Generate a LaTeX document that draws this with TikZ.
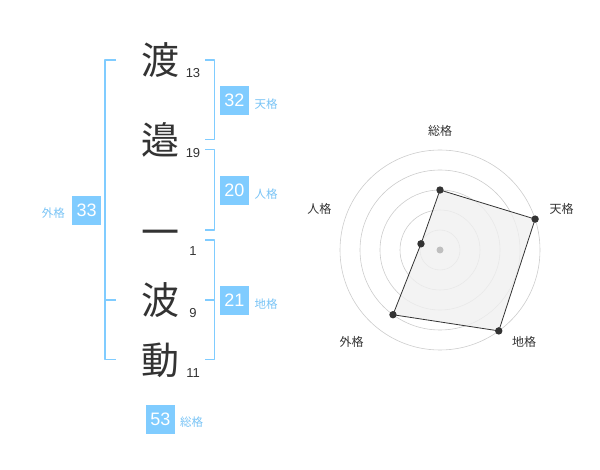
\documentclass[tikz,border=0pt]{standalone}
\usepackage{fontspec}
\setmainfont{Liberation Sans}
\newfontfamily\jp{Noto Sans CJK JP}
\definecolor{kaku}{RGB}{128,204,255}
\definecolor{kakutxt}{RGB}{120,195,245}
\definecolor{ink}{RGB}{51,51,51}
\begin{document}
\begin{tikzpicture}[x=1pt,y=-1pt,line join=round,line cap=round,
	kanji/.style={text=ink,font=\jp\fontsize{38}{38}\selectfont,inner sep=0pt},
	kakusu/.style={text=ink,font=\fontsize{13}{13}\selectfont,inner sep=0pt},
	kbox/.style={fill=kaku,text=white,minimum size=29pt,inner sep=0pt,font=\fontsize{18}{18}\selectfont},
	kname/.style={text=kakutxt,font=\jp\fontsize{11.5}{12}\selectfont,inner sep=0pt},
	brk/.style={draw=kaku,line width=1.5pt,line cap=butt},
	ring/.style={draw=black!20,line width=0.6pt},
	rlab/.style={text=ink,font=\jp\fontsize{12}{12}\selectfont,inner sep=0pt}]
	\useasboundingbox (0,0) rectangle (600,470);
	% name
	\foreach \k/\y/\s [count=\i] in {渡/60/13,邉/140/19,一/238/1,波/300/9,動/360/11}{
		\node[kanji] (k\i) at (160,\y) {\k};
		\node[kakusu] (s\i) at (193,{\y+12.7}) {\s};
	}
	% brackets
	\draw[brk] (116,60)--(105,60)--(105,359.3)--(116,359.3) (105,300)--(116,300);
	\draw[brk] (205,60)--(214.3,60)--(214.3,139.3)--(205,139.3);
	\draw[brk] (205,149.3)--(214.3,149.3)--(214.3,230)--(205,230);
	\draw[brk] (205,240)--(214.3,240)--(214.3,359.3)--(205,359.3) (205,300)--(214.3,300);
	% values
	\node[kbox] (ten) at (234.5,100.5) {32};
	\node[kname] (tenl) at (266,104) {天格};
	\node[kbox] (jin) at (234.5,190.5) {20};
	\node[kname] (jinl) at (266,194) {人格};
	\node[kbox] (chi) at (234.5,300.5) {21};
	\node[kname] (chil) at (266,304.3) {地格};
	\node[kbox] (gai) at (86.7,210.5) {33};
	\node[kname] (gail) at (53.3,213.3) {外格};
	\node[kbox] (so) at (160.5,419) {53};
	\node[kname] (sol) at (191.7,422.3) {総格};
	% radar
	\begin{scope}[shift={(440,250)}]
		\foreach \r in {20,40,...,100}
		\draw[ring] (0,0) circle (\r pt);
		\foreach \a/\v [count=\i] in {-90/3,-18/5,54/5,126/4,198/1}
		\coordinate (p\i) at (\a:{\v*20});
		\draw[ink,fill=black!6,fill opacity=0.8,line width=0.8pt] (p1)--(p2)--(p3)--(p4)--(p5)--cycle;
		\fill[black!25] (0,0) circle (3.5pt);
		\foreach \i in {1,...,5}
		\fill[ink] (p\i) circle (3.7pt);
	\end{scope}
	\node[rlab] (rso) at (440,130.7) {総格};
	\node[rlab] (rten) at (561.7,209) {天格};
	\node[rlab] (rjin) at (319.3,209) {人格};
	\node[rlab] (rgai) at (351.7,342.3) {外格};
	\node[rlab] (rchi) at (524,342.3) {地格};
\end{tikzpicture}
\end{document}
